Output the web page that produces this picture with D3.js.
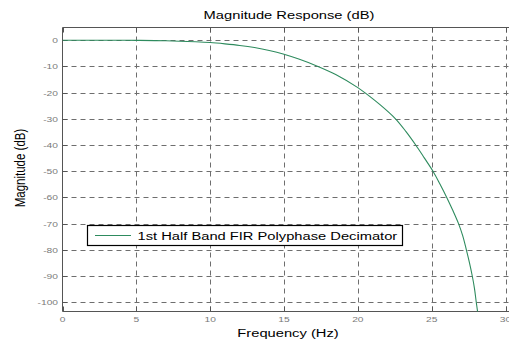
<!DOCTYPE html>
<html>
<head>
<meta charset="utf-8">
<script src="https://cdn.jsdelivr.net/npm/d3@7"></script>
<style>
  body { margin: 0; background: #fff; }
  svg { display: block; }
  text { font-family: "Liberation Sans", Arial, sans-serif; }
</style>
</head>
<body>
<svg id="chart" width="509" height="341"></svg>
<script>
// magnitude response
const freq = [0, 3, 5, 7, 9, 10, 11, 12, 13, 14, 15, 16, 17.3, 18.5, 20, 20.47, 21.5, 22.55, 23.25, 23.92, 24.5, 25.09, 25.55, 26.02, 26.42, 26.82, 27.1, 27.35, 27.55, 27.75, 27.9, 28.02, 28.12];
const magDb = [0, 0, -0.05, -0.2, -0.6, -0.9, -1.4, -2.0, -2.8, -3.9, -5.35, -7.2, -10, -13.1, -18.1, -20, -24.6, -30, -34.8, -40, -44.9, -50, -54.8, -60, -64.8, -70, -74.6, -80, -84.7, -90, -94.8, -100, -104];
const xTicks = [0, 5, 10, 15, 20, 25, 30];
const yTicks = [0, -10, -20, -30, -40, -50, -60, -70, -80, -90, -100];
const legendLabel = '1st Half Band FIR Polyphase Decimator';

const W = 509, H = 341;
const SX = 1.28; // picture is stretched sideways
const pLeft = 62.5, pRight = 505.5, pTop = 27.5, pBottom = 311.5;

const svg = d3.select('#chart');
const x = d3.scaleLinear().domain([0, 30]).range([pLeft, pRight]);
const y = d3.scaleLinear().domain([-103.55, 4.85]).range([pBottom, pTop]);

function label(px, py, s, size, color, anchor, rot) {
  svg.append('text')
    .attr('transform', `translate(${px},${py}) scale(${SX},1)` + (rot ? ` rotate(${rot})` : ''))
    .attr('text-anchor', anchor || 'middle')
    .attr('font-size', size + 'px')
    .attr('fill', color)
    .text(s);
}

// grid
const grid = svg.append('g').attr('stroke', '#6e6e6e').attr('stroke-width', 1).attr('stroke-dasharray', '5,4');
grid.selectAll('.gx').data(xTicks.filter(d => d > 0)).enter().append('line')
  .attr('x1', d => Math.round(x(d)) + 0.5).attr('x2', d => Math.round(x(d)) + 0.5)
  .attr('y1', pTop).attr('y2', pBottom);
grid.selectAll('.gy').data(yTicks).enter().append('line')
  .attr('x1', pLeft).attr('x2', W)
  .attr('y1', d => Math.round(y(d)) + 0.5).attr('y2', d => Math.round(y(d)) + 0.5);

// axes box (right edge is off the picture)
const ax = svg.append('g').attr('stroke', '#555').attr('stroke-width', 1);
ax.append('line').attr('x1', pLeft).attr('x2', W).attr('y1', pTop).attr('y2', pTop);
ax.append('line').attr('x1', pLeft).attr('x2', W).attr('y1', pBottom).attr('y2', pBottom);
ax.append('line').attr('x1', pLeft).attr('x2', pLeft).attr('y1', pTop).attr('y2', pBottom);

// inward ticks
ax.selectAll('.tt').data(xTicks).enter().append('line')
  .attr('x1', d => Math.round(x(d)) + 0.5).attr('x2', d => Math.round(x(d)) + 0.5)
  .attr('y1', pTop).attr('y2', pTop + 5);
ax.selectAll('.tb').data(xTicks).enter().append('line')
  .attr('x1', d => Math.round(x(d)) + 0.5).attr('x2', d => Math.round(x(d)) + 0.5)
  .attr('y1', pBottom).attr('y2', pBottom - 5);
ax.selectAll('.tl').data(yTicks).enter().append('line')
  .attr('x1', pLeft).attr('x2', pLeft + 5)
  .attr('y1', d => Math.round(y(d)) + 0.5).attr('y2', d => Math.round(y(d)) + 0.5);

// tick labels
xTicks.forEach(t => label(x(t), 322, String(t), 8, '#7a7a7a'));
yTicks.forEach(t => label(58, y(t) + 3, String(t), 8, '#7a7a7a', 'end'));

// curve
svg.append('clipPath').attr('id', 'clip').append('rect')
  .attr('x', pLeft).attr('y', pTop).attr('width', W - pLeft).attr('height', pBottom - pTop);
const line = d3.line().x((d, i) => x(freq[i])).y(d => y(d)).curve(d3.curveCatmullRom.alpha(0.5));
svg.append('path')
  .attr('clip-path', 'url(#clip)')
  .attr('d', line(magDb))
  .attr('fill', 'none').attr('stroke', '#2e8b5e').attr('stroke-width', 1.1);

// legend
svg.append('rect').attr('x', 87.5).attr('y', 225.5).attr('width', 315).attr('height', 20)
  .attr('fill', '#fff').attr('stroke', '#000').attr('stroke-width', 1.2);
svg.append('line').attr('x1', 95).attr('x2', 131).attr('y1', 235.5).attr('y2', 235.5)
  .attr('stroke', '#2e8b5e').attr('stroke-width', 1.1);
label(137.5, 239.5, legendLabel, 11.5, '#000', 'start');

// titles
label(289, 19, 'Magnitude Response (dB)', 11.5, '#000');
label(288, 337, 'Frequency (Hz)', 11.5, '#000');
label(25, 168, 'Magnitude (dB)', 11.5, '#000', 'middle', -90);
</script>
</body>
</html>
